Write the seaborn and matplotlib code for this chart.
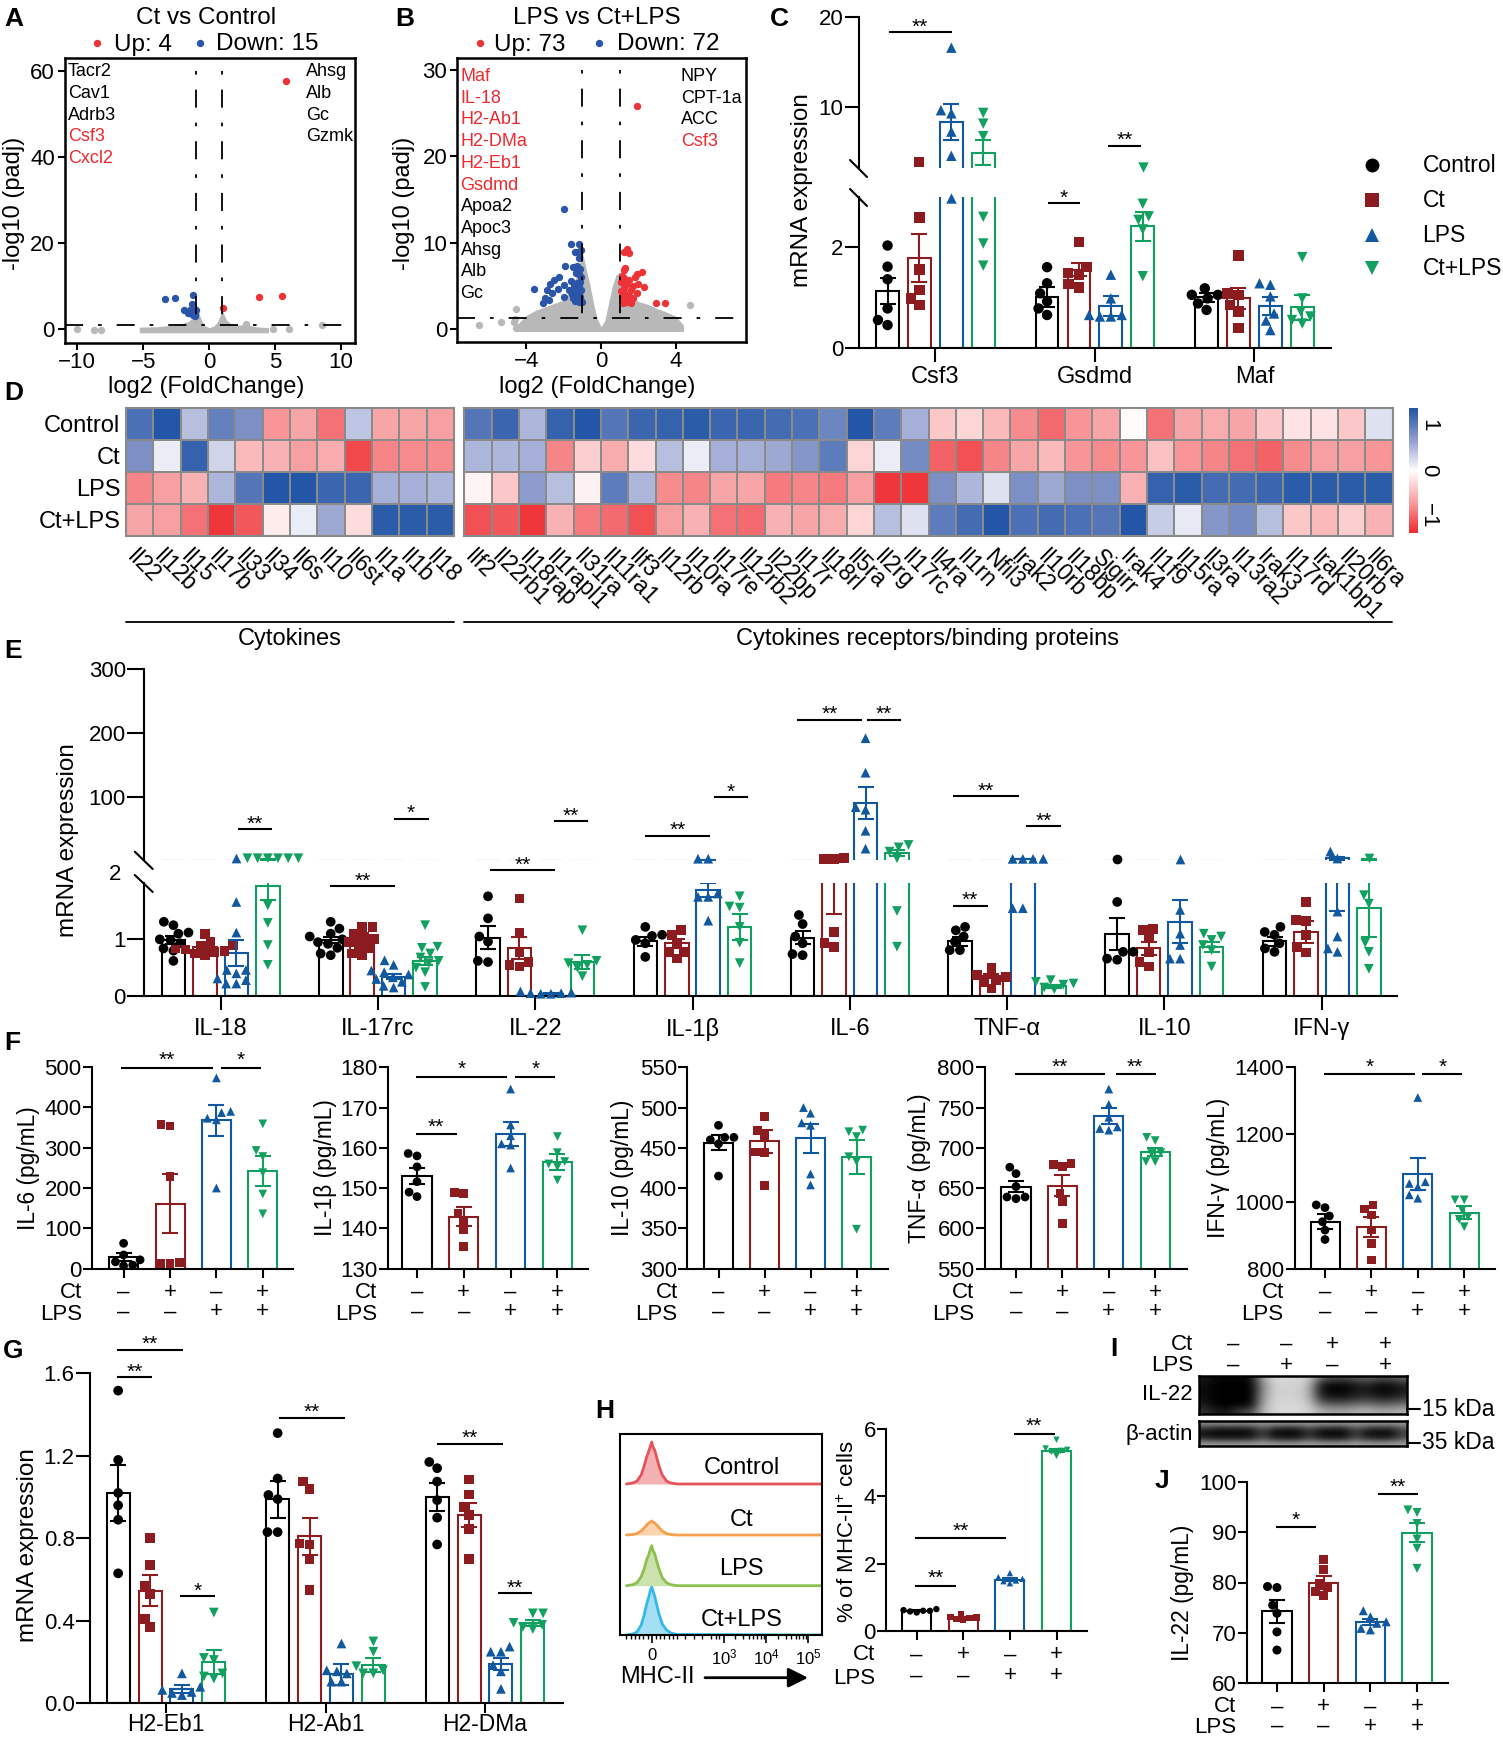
# -*- coding: utf-8 -*-
import warnings
import numpy as np
import pandas as pd
import matplotlib
matplotlib.use("Agg")
import matplotlib.pyplot as plt
from matplotlib.collections import PathCollection
from matplotlib.colors import LinearSegmentedColormap
import seaborn as sns

warnings.filterwarnings("ignore")
sns.set_style("ticks")
plt.rcParams['font.family'] = ['Liberation Sans', 'DejaVu Sans']
plt.rcParams['mathtext.default'] = 'regular'
plt.rcParams['axes.linewidth'] = 1.5
plt.rcParams['xtick.major.width'] = 1.5
plt.rcParams['ytick.major.width'] = 1.5
plt.rcParams['xtick.labelsize'] = 16
plt.rcParams['ytick.labelsize'] = 16
plt.rcParams['text.color'] = 'black'
plt.rcParams['xtick.color'] = 'black'
plt.rcParams['ytick.color'] = 'black'
plt.rcParams['axes.edgecolor'] = 'black'

W, H = 1503, 1737
GROUPS = ['Control', 'Ct', 'LPS', 'Ct+LPS']
COLORS = ['#000000', '#8c1c20', '#11589f', '#12a060']
MARKERS = ['o', 's', '^', 'v']
PALETTE = dict(zip(GROUPS, COLORS))
SIGNS = ['–\n–', '+\n–', '–\n+', '+\n+']

# A, B volcano
a_red = [(5.8, 57.6), (3.8, 7.6), (5.54, 7.8), (1.03, 5.0)]
a_blue = [(-3.38, 7.0), (-2.57, 7.2), (-1.2, 8.0), (-1.32, 5.9), (-1.9, 4.5), (-1.54, 4.1), (-1.35, 3.7),
          (-1.17, 3.9), (-1.0, 4.5), (-1.45, 4.6), (-1.25, 3.3), (-1.1, 3.2), (-1.05, 3.6), (-1.6, 3.9), (-1.2, 4.3)]
a_gray = [(-10, 0), (-8.7, -0.1), (-8.2, -0.1), (8.55, 1.0), (6.05, 0), (4.8, 0), (2.8, 1.2)]
a_env_x = [-5.3, -4, -3, -2.4, -2, -1.6, -1.3, -1.15, -1.0, -.85, -.7, -.5, -.3, 0, .3, .5, .7, .9, 1.0, 1.1, 1.3, 1.6, 2, 2.8, 3.5, 4.5]
a_env_top = [.5, .6, .9, 1.2, 1.4, 1.8, 2.6, 4.5, 5.8, 4.5, 3, 1.6, .8, .4, .7, 1.2, 2.2, 3.8, 4.5, 3.6, 2.2, 1.4, 1, 1.1, .6, .4]
b_red = [(1.9, 25.8), (1.4, 9.3), (1.25, 8.9), (1.5, 8.8), (1.3, 7.1), (1.2, 6.9), (2.2, 6.6), (1.9, 6.4), (1.1, 6.2),
         (1.8, 6.0), (1.25, 5.9), (1.5, 5.7), (2.0, 5.3), (1.05, 5.5), (1.4, 5.2), (1.7, 5.0), (2.3, 4.9), (1.2, 4.8),
         (1.6, 4.5), (1.05, 4.4), (1.9, 4.2), (1.3, 4.1), (1.5, 3.9), (1.1, 3.8), (1.7, 3.6), (1.2, 3.4), (1.4, 3.2),
         (1.6, 3.0), (1.15, 3.0), (2.95, 3.1), (3.4, 3.0)]
b_blue = [(-1.96, 13.96), (-1.6, 9.9), (-1.2, 9.9), (-1.05, 9.2), (-1.4, 9.0), (-1.25, 8.9), (-1.15, 8.2), (-1.3, 7.3),
          (-1.9, 7.3), (-1.5, 7.2), (-1.1, 7.0), (-1.35, 6.5), (-1.2, 6.4), (-2.25, 6.0), (-1.05, 6.1), (-2.5, 5.7),
          (-1.6, 5.6), (-1.3, 5.4), (-1.1, 5.5), (-2.75, 5.2), (-2.0, 5.1), (-1.45, 5.0), (-1.2, 5.0), (-3.6, 4.7),
          (-2.9, 4.6), (-2.3, 4.7), (-1.7, 4.6), (-1.35, 4.4), (-1.05, 4.5), (-2.6, 4.2), (-1.55, 4.1), (-1.2, 4.0),
          (-3.0, 3.6), (-2.0, 3.7), (-1.5, 3.6), (-1.1, 3.7), (-3.1, 3.1), (-2.8, 3.4), (-1.4, 3.3), (-1.2, 3.2), (-1.0, 3.2)]
b_gray = [(-6.5, 0.45), (-4.55, 2.3), (-5.35, 0.9), (-4.65, 0.8), (-4.55, 0.2), (4.75, 2.8), (-4.6, 1.2)]
b_env_x = [-4.6, -4, -3.5, -3, -2.5, -2, -1.5, -1.2, -1, -.8, -.6, -.4, -.2, 0, .2, .4, .6, .8, 1, 1.2, 1.5, 2, 2.5, 3, 3.5, 4, 4.4]
b_env_top = [.3, 1.6, 2.2, 2.6, 3, 3.4, 5, 7, 9, 7, 5.2, 3, 1.2, .3, 1, 3, 5, 6.3, 6.6, 5.8, 4.2, 3.2, 2.9, 2.4, 2, 1.5, .5]

# C
c_genes = ['Csf3', 'Gsdmd', 'Maf']
c_means = [[1.12, 1.78, 8.25, 4.85], [1.0, 1.55, .82, 2.41], [1.0, .98, .82, .8]]
c_sems = [[.26, .47, 2.0, 1.4], [.2, .13, .2, .29], [.09, .21, .18, .24]]
c_points = [
    [[2.03, 1.61, 1.36, .78, .45, .55], [3.84, 2.59, 1.55, 1.15, .85, .98], [16.6, 9.6, 9.25, 7.2, 4.5, 2.97], [9.3, 8.1, 6.7, 2.6, 2.07, 1.63]],
    [[1.6, 1.28, 1.08, .92, .78, .65], [2.1, 1.6, 1.48, 1.45, 1.27, 1.2], [1.45, .98, .62, .65, .65, .62], [3.2, 2.86, 2.54, 2.61, 2.35, 1.42]],
    [[1.18, 1.05, 1.05, .98, .88, .75], [1.83, 1.08, 1.05, .85, .72, .39], [1.28, 1.25, 1.02, .68, .54, .35], [1.8, .98, .62, .72, .55, .48]],
]

# D heatmap
d_rows = GROUPS
d_left_genes = ['Il22', 'Il12b', 'Il15', 'Il17b', 'Il33', 'Il34', 'Il6s', 'Il10', 'Il6st', 'Il1a', 'Il1b', 'Il18']
d_left = [[1.1, 1.35, .45, .95, .8, -.75, -.65, -.95, .4, -.65, -.65, -.7],
          [.8, .12, 1.25, .3, -.5, -.55, -.7, -.6, -1.2, -.85, -.8, -.8],
          [-.85, -.7, -.55, .5, 1.05, 1.35, 1.35, 1.2, 1.2, .55, .55, .5],
          [-.65, -.7, -.95, -1.3, -1.1, -.15, .12, .6, -.25, 1.3, 1.3, 1.3]]
d_right_genes = ['Ilf2', 'Il22rb1', 'Il18rap', 'Il1rapl1', 'Il31ra', 'Il11ra1', 'Ilf3', 'Il12rb', 'Il10ra', 'Il17re',
                 'Il12rb2', 'Il22bp', 'Il17r', 'Il18rl', 'Il5ra', 'Il2rg', 'Il17rc', 'Il4ra', 'Il1rn', 'Nfil3', 'Irak2',
                 'Il10rb', 'Il18bp', 'Sigirr', 'Irak4', 'Il1f9', 'Il15ra', 'Il3ra', 'Il13ra2', 'Irak3', 'Il17rd',
                 'Irak1bp1', 'Il20rb', 'Il6ra']
d_right = [[1.05, 1.2, .5, 1.25, 1.35, 1.05, 1.2, 1.25, 1.3, 1.2, 1.2, 1.15, 1.1, .9, 1.35, 1.0, .55, -.4, -.3, -.5, -.8,
            -1.0, -.75, -.65, -.03, -.95, -.65, -.6, -.65, -.4, -.2, -.2, -.4, .2],
           [.5, .5, .55, -.85, -.35, -.6, -.25, .45, .12, .55, .55, .6, .75, 1.0, -.3, .12, .85, -1.05, -1.15, -.85, -.65,
            -.5, -.75, -.8, -.75, -.45, -.75, -.85, -.95, -1.05, -.8, -.7, -.7, -.75],
           [-.08, -.4, .7, .45, -.1, 1.0, .5, -.8, -.85, -.65, -.65, -.9, -.85, -.9, -.7, -1.3, -1.3, .8, .5, .2, .8, .6,
            .8, .8, -.55, 1.25, 1.3, 1.15, 1.15, 1.2, 1.3, 1.3, 1.3, 1.3],
           [-1.15, -1.1, -1.3, -.55, -.9, -1.0, -1.15, -.7, -.55, -.95, -1.0, -.55, -.65, -.6, -.3, .45, .2, 1.0, 1.15,
            1.35, 1.1, 1.15, 1.1, 1.05, 1.35, .35, .15, .75, .85, .45, -.4, -.5, -.35, -.55]]

# E
e_genes = ['IL-18', 'IL-17rc', 'IL-22', 'IL-1β', 'IL-6', 'TNF-α', 'IL-10', 'IFN-γ']
e_means = [[.99, .87, .76, 1.94], [.99, .96, .34, .62], [1.03, .85, .04, .6], [.97, .93, 1.87, 1.22],
           [1.03, 2.5, 91, 12], [.97, .35, 2.4, .17], [1.09, .84, 1.31, .86], [.97, 1.13, 4.0, 1.55]]
e_sems = [[.07, .04, .23, .24], [.06, .05, .04, .07], [.2, .2, .01, .13], [.08, .08, .13, .23],
          [.11, 1.05, 25, 5], [.08, .04, .33, .03], [.28, .12, .38, .09], [.08, .19, 2.5, .5]]
e_points = [
    [[1.31, 1.25, 1.12, 1.1, 1.0, .99, .93, .84, .8, .62], [1.1, .95, .9, .88, .85, .82, .8, .78, .75, .72],
     [4.0, 1.66, 1.12, .46, .46, .4, .31, .28, .22, .22], [4, 4, 4, 4, 4, 4, 1.6, 1.29, .9, .55]],
    [[1.31, 1.19, 1.1, 1.05, 1.0, .95, .92, .85, .75, .72], [1.22, 1.22, 1.1, 1.05, 1.0, .95, .9, .85, .75, .72],
     [.63, .55, .45, .42, .38, .33, .3, .25, .18, .15], [1.25, .87, .85, .75, .68, .62, .58, .5, .42, .16]],
    [[1.76, 1.37, 1.05, .96, .6, .62], [1.72, 1.12, .78, .6, .55, .52], [.08, .06, .05, .05, .04, .04], [1.16, .62, .58, .55, .5, .35]],
    [[1.22, 1.08, 1.06, .99, .93, .69], [1.16, 1.08, .93, .78, .78, .66], [3.2, 3.2, 1.81, 1.75, 1.75, 1.33], [1.76, 1.58, 1.56, 1.22, .94, .58]],
    [[1.43, 1.27, 1.05, .93, .72, .74], [4.8, 3.2, 3.2, 1.13, .93, .87], [192, 138, 80, 84, 47, 19], [24.8, 21, 14.3, 4, 1.5, .87]],
    [[1.22, 1.16, 1.05, .96, .81, .81], [.5, .37, .34, .28, .25, .13], [3, 3, 3, 3, 1.55, 1.55], [.28, .25, .22, .2, .15, .12]],
    [[3, 1.66, .78, .78, .64, .66], [1.16, 1.18, 1.02, .78, .6, .52], [3, 1.52, 1.1, .9, .66, .66], [1.1, 1.05, .99, .9, .81, .52]],
    [[1.22, 1.13, 1.08, .93, .84, .78], [1.66, 1.34, 1.33, 1.08, .86, .77], [3.5, 14.5, 1.49, 1.05, .78, .84], [4, 1.78, 1.63, .94, .78, .48]],
]

# F
f_il6_means = [28, 161, 368, 243]
f_il6_sems = [10, 73, 38, 37]
f_il6_points = [[63, 34, 22, 17, 9, 7], [354, 357, 228, 13, 15, 13], [473, 390, 387, 373, 369, 200], [359, 293, 278, 238, 185, 136]]
f_il1b_means = [153.1, 142.9, 163.4, 156.4]
f_il1b_sems = [2, 2.3, 2.9, 2]
f_il1b_points = [[158.6, 158, 155.3, 151.6, 147.9, 149], [149, 148.7, 143.7, 142, 139.8, 135.6],
                 [174.6, 165.7, 163, 161, 160.7, 155], [162.8, 158.8, 156.6, 156, 155.3, 152]]
f_il10_means = [456.5, 458, 462, 439]
f_il10_sems = [9, 14, 18, 21]
f_il10_points = [[478, 463, 463, 460, 455, 415], [488.7, 472, 465, 445, 444, 403], [493, 500, 478, 481, 417.6, 404], [470, 472, 464, 439, 433, 349]]
f_tnf_means = [652, 653, 740, 694.5]
f_tnf_sems = [7, 13, 10, 5]
f_tnf_points = [[676, 668, 652, 637, 639, 639], [681, 679, 677, 643.5, 633, 606], [773, 754, 738, 722, 724, 726], [709, 713, 693, 683, 683, 694]]
f_ifn_means = [940, 925, 1082, 967]
f_ifn_sems = [22, 30, 49, 20]
f_ifn_points = [[982, 990, 957, 940, 915, 887], [990, 978, 960, 915, 875, 826], [1310, 1059, 1054, 1044, 1010, 1020], [1005, 1005, 975, 955, 947, 925]]

# G
g_genes = ['H2-Eb1', 'H2-Ab1', 'H2-DMa']
g_means = [[1.02, .546, .07, .2], [.99, .81, .14, .185], [1.0, .913, .19, .39]]
g_sems = [[.135, .076, .02, .06], [.09, .09, .05, .035], [.07, .06, .03, .015]]
g_points = [
    [[1.516, 1.18, 1.02, .96, .89, .63], [.8, .67, .57, .53, .41, .37], [.145, .08, .065, .055, .05, .04], [.44, .22, .21, .145, .13, .12]],
    [[1.31, 1.09, 1.01, .99, .83, .83], [1.075, 1.04, .775, .77, .7, .55], [.29, .16, .155, .145, .105, .105], [.3, .25, .18, .16, .145, .145]],
    [[1.17, 1.14, 1.075, .985, .9, .77], [1.085, 1.013, .953, .913, .845, .7], [.275, .25, .25, .185, .155, .07], [.436, .436, .39, .38, .37, .36]],
]

# H
h_means = [.6, .4, 1.52, 5.36]
h_sems = [.02, .03, .04, .05]
h_points = [[.65, .62, .6, .6, .58, .55], [.5, .42, .4, .38, .35, .32], [1.72, 1.6, 1.55, 1.5, 1.48, 1.42], [5.68, 5.42, 5.38, 5.35, 5.32, 5.2]]
flow_x = [-.6, -.45, -.35, -.25, -.18, -.12, -.07, -.03, 0, .03, .07, .12, .18, .25, .35, .45, .6, 4.03]
flow_control = [0, 1, 3, 9, 18, 27, 33, 38, 42, 37, 34, 26, 17, 9, 3, 1, 0, 0]
flow_ct = [0, .5, 1.5, 4, 7, 10, 12, 13, 14, 13, 12, 10, 7, 4, 1.5, .5, 0, 0]
flow_lps = [0, 1, 3, 9, 17, 26, 31, 37, 40, 35, 32, 24, 16, 8, 3, 1, 0, 0]
flow_ctlps = [0, 1, 3, 10, 20, 31, 38, 45, 48, 44, 39, 30, 20, 11, 5, 2, .5, 0]
flow_names = GROUPS
flow_lines = ['#e8525a', '#f5a04c', '#8cc04c', '#35b8ea']

# I blot grey levels
blot_il22 = [[.1, .02, .02, .02, .05, .65, .85, .85, .85, .8, .4, .3, .3, .35, .4, .33, .33, .4],
             [.05, 0, 0, 0, 0, .55, .82, .82, .82, .72, .1, .02, .02, .1, .14, .05, .05, .14],
             [.05, 0, 0, 0, 0, .55, .82, .82, .82, .7, .08, .01, .01, .08, .1, .03, .03, .1],
             [.05, 0, 0, 0, 0, .6, .82, .82, .82, .72, .18, .1, .1, .17, .2, .13, .13, .2],
             [.1, 0, 0, 0, .02, .65, .84, .84, .84, .78, .42, .36, .36, .42, .45, .38, .38, .45],
             [.2, .1, .08, .25, .3, .7, .85, .85, .85, .82, .68, .64, .64, .68, .7, .66, .66, .7]]
blot_actin = [[.55, .55, .55, .55, .55, .6, .58, .58, .58, .6, .58, .58, .58, .6, .58, .58, .58, .6],
              [.2, .12, .12, .12, .15, .35, .15, .12, .12, .3, .15, .12, .12, .35, .18, .15, .15, .35],
              [.05, .02, .02, .02, .04, .25, .03, .02, .02, .2, .03, .02, .02, .25, .05, .03, .03, .25],
              [.2, .12, .12, .12, .15, .35, .15, .12, .12, .3, .15, .12, .12, .35, .18, .15, .15, .35],
              [.6, .6, .6, .6, .6, .62, .6, .6, .6, .62, .6, .6, .6, .62, .6, .6, .6, .62]]

# J
j_means = [74.3, 80, 72.2, 89.9]
j_sems = [2.3, 1.2, .6, 1.9]
j_points = [[79, 79.2, 75.5, 73.9, 70.2, 66.6], [84.6, 82.6, 79.8, 79, 78.2, 77.4], [74.4, 73.2, 72.2, 71.9, 70.9, 70.6], [94.4, 93.9, 91.7, 88.6, 86.8, 82.8]]

fig = plt.figure(figsize=(W / 100, H / 100), dpi=100)


def box(x0, y0, x1, y1):
    return fig.add_axes([x0 / W, 1 - y1 / H, (x1 - x0) / W, (y1 - y0) / H])


def draw_bars(ax, genes, means, sems, points, size, gap, cap=5.5, lo=None, hi=None):
    # lo/hi pick what belongs on one segment of a broken axis
    bar_rows = []
    for i, g in enumerate(genes):
        for j in range(4):
            m = means[i][j]
            if lo is not None and m < lo:
                m = 0
            bar_rows.append((g, GROUPS[j], m))
    df_bar = pd.DataFrame(bar_rows, columns=['gene', 'group', 'mean'])
    sns.barplot(data=df_bar, x='gene', y='mean', hue='group', order=genes, hue_order=GROUPS, palette=PALETTE,
                fill=False, width=.8, gap=gap, linewidth=1.5, errorbar=None, saturation=1, legend=False, ax=ax)
    for i in range(len(genes)):
        for j in range(4):
            m, e = means[i][j], sems[i][j]
            if lo is not None and m + e < lo:
                continue
            if hi is not None and m - e >= hi:
                continue
            ax.errorbar(i + (j - 1.5) * .2, m, yerr=e, fmt='none', ecolor=COLORS[j],
                        elinewidth=1.5, capsize=cap, capthick=1.5, zorder=4)
    for j, grp in enumerate(GROUPS):
        rows = []
        for i, g in enumerate(genes):
            for v in points[i][j]:
                if (lo is None or v >= lo) and (hi is None or v < hi):
                    rows.append((g, grp, v))
        if not rows:
            continue
        df_pts = pd.DataFrame(rows, columns=['gene', 'group', 'val'])
        sns.swarmplot(data=df_pts, x='gene', y='val', hue='group', order=genes, hue_order=GROUPS, palette=PALETTE,
                      dodge=True, marker=MARKERS[j], size=size, linewidth=0, legend=False, zorder=3, ax=ax)
    # only the markers may sit over the axis ends
    for c in ax.collections:
        if isinstance(c, PathCollection):
            c.set_clip_on(False)
    ax.set_xlabel('')
    ax.set_ylabel('')


def sign_panel(x0, x1, y0, y1, cx, step, ylim, yticks, means, sems, points, size=6.3, tick=6.5, pad=3, spacing=.9):
    ax = box(x0, y0, x1, y1)
    draw_bars(ax, ['g'], [means], [sems], [points], size, .375, cap=5.5)
    unit = step / .2
    ax.set_xlim((x0 - cx) / unit, (x1 - cx) / unit)
    ax.set_ylim(*ylim)
    ax.set_yticks(yticks)
    ax.set_xticks([-.3, -.1, .1, .3], SIGNS, linespacing=spacing)
    ax.tick_params(axis='y', length=tick, pad=1)
    ax.tick_params(axis='x', length=tick, pad=pad)
    sns.despine(ax=ax)
    return ax


# panel C, broken axis
cstep = 159.5
c_up = box(858.6, 17.3, 1331, 168.3)
draw_bars(c_up, c_genes, c_means, c_sems, c_points, 7.5, .286, lo=3)
c_up.set_xlim((858.6 - 935.4) / cstep, (1331 - 935.4) / cstep)
c_up.set_ylim(3.1, 20)
c_up.set_yticks([10, 20])
c_up.set_xticks([])
c_up.tick_params(axis='y', length=10, pad=1)
sns.despine(ax=c_up, bottom=True)
c_lo = box(858.6, 196.7, 1331, 347.7)
draw_bars(c_lo, c_genes, c_means, c_sems, c_points, 7.5, .286, hi=3)
c_lo.set_xlim((858.6 - 935.4) / cstep, (1331 - 935.4) / cstep)
c_lo.set_ylim(0, 3)
c_lo.set_yticks([0, 2])
c_lo.set_xticks([0, 1, 2], c_genes, fontsize=17)
c_lo.tick_params(axis='y', length=10, pad=1)
c_lo.tick_params(axis='x', length=10, pad=3)
sns.despine(ax=c_lo)

# panel E, broken axis
estep = 157.3
e_up = box(144, 669.3, 1397, 859.5)
draw_bars(e_up, e_genes, e_means, e_sems, e_points, 7, .25, lo=2)
e_up.set_xlim((144 - 220.6) / estep, (1397 - 220.6) / estep)
e_up.set_ylim(2, 300)
e_up.set_yticks([100, 200, 300])
e_up.set_xticks([])
e_up.tick_params(axis='y', length=12, pad=1)
sns.despine(ax=e_up, bottom=True)
e_lo = box(144, 882.7, 1397, 996)
draw_bars(e_lo, e_genes, e_means, e_sems, e_points, 7, .25, hi=2)
e_lo.set_xlim((144 - 220.6) / estep, (1397 - 220.6) / estep)
e_lo.set_ylim(0, 2)
e_lo.set_yticks([0, 1])
e_lo.set_xticks(range(8), e_genes, fontsize=17)
e_lo.tick_params(axis='y', length=12, pad=1)
e_lo.tick_params(axis='x', length=10, pad=6)
sns.despine(ax=e_lo)

# panel F
sign_panel(92, 293, 1067, 1268.7, 193.2, 46.4, (0, 500), [0, 100, 200, 300, 400, 500], f_il6_means, f_il6_sems, f_il6_points)
sign_panel(387.8, 587.5, 1067.3, 1268.7, 487.2, 46.8, (130, 180), [130, 140, 150, 160, 170, 180], f_il1b_means, f_il1b_sems, f_il1b_points)
sign_panel(687.4, 888, 1067.3, 1268.7, 787.5, 46, (300, 550), [300, 350, 400, 450, 500, 550], f_il10_means, f_il10_sems, f_il10_points)
sign_panel(985, 1186.5, 1067.3, 1268.7, 1085.6, 46.4, (550, 800), [550, 600, 650, 700, 750, 800], f_tnf_means, f_tnf_sems, f_tnf_points)
sign_panel(1294.6, 1494.6, 1067.3, 1268.7, 1394.6, 46.4, (800, 1400), [800, 1000, 1200, 1400], f_ifn_means, f_ifn_sems, f_ifn_points)

# panel G
g_ax = box(90, 1373.3, 562.6, 1703.3)
draw_bars(g_ax, g_genes, g_means, g_sems, g_points, 7, .28)
g_ax.set_xlim((90 - 166) / 159.5, (562.6 - 166) / 159.5)
g_ax.set_ylim(0, 1.6)
g_ax.set_yticks([0, .4, .8, 1.2, 1.6], ['0.0', '0.4', '0.8', '1.2', '1.6'])
g_ax.set_xticks([0, 1, 2], g_genes, fontsize=16.5)
g_ax.tick_params(axis='y', length=10, pad=1)
g_ax.tick_params(axis='x', length=7, pad=0)
sns.despine(ax=g_ax)

# panel H bars and J
sign_panel(886.4, 1086.8, 1429, 1631, 986.6, 46.6, (0, 6), [0, 2, 4, 6], h_means, h_sems, h_points, size=4.6, pad=3, spacing=1.0)
sign_panel(1247, 1447.9, 1481.7, 1683.3, 1347, 46.7, (60, 100), [60, 70, 80, 90, 100], j_means, j_sems, j_points, size=6.5, pad=3)

# panel H flow histograms
fl = box(620.3, 1434, 821.8, 1635)
flow_bases = [151, 100, 49.3, 0]
for base, curve, col in zip(flow_bases, [flow_control, flow_ct, flow_lps, flow_ctlps], flow_lines):
    top = [base + v for v in curve]
    fl.fill_between(flow_x, base, top, color=col, alpha=.45, lw=0)
    sns.lineplot(x=flow_x, y=top, color=col, lw=2, estimator=None, sort=False, ax=fl)
fl.set_xlim(-.745, 4.03)
fl.set_ylim(0, 201)
fl.set_yticks([])
fl.set_xticks([0, 1.71, 2.71, 3.71], ['0', '$10^3$', '$10^4$', '$10^5$'], fontsize=12)
fl_minor = [-.6, -.5, -.4, -.3, -.2, -.1, .1, .2, .3, .4, .5, .6, .8, 1.0, 1.2, 1.4, 1.52, 1.6, 1.98, 2.16, 2.3, 2.41, 2.5, 2.58, 2.65,
            2.99, 3.17, 3.3, 3.41, 3.5, 3.58, 3.65]
fl.set_xticks(fl_minor, minor=True)
fl.tick_params(axis='x', which='major', length=6, pad=3, width=1.2)
fl.tick_params(axis='x', which='minor', length=3, width=1)

# panel I blots
for (y0, y1, blot) in [(1376, 1414.3, blot_il22), (1420.7, 1445.7, blot_actin)]:
    bl = box(1198.6, y0, 1407, y1)
    bl.imshow(np.array(blot), cmap='gray', vmin=0, vmax=1, aspect='auto', interpolation='bicubic')
    bl.set_xticks([])
    bl.set_yticks([])
    for s in bl.spines.values():
        s.set_linewidth(1.8)

# panels A, B volcano
volcanos = [(box(64.5, 58.3, 355, 342.7), a_red, a_blue, a_gray, a_env_x, a_env_top, (-10.97, 11.05), (-3.1, 62.9),
             [-10, -5, 0, 5, 10], [0, 20, 40, 60], 60, 1.0, -.8),
            (box(457, 58.3, 746, 341.7), b_red, b_blue, b_gray, b_env_x, b_env_top, (-7.69, 7.74), (-1.43, 31.35),
             [-4, 0, 4], [0, 10, 20, 30], 30, 1.3, -.25)]
for ax, red, blue, gray, ex, et, xl, yl, xt, yt, ytop, hl, elow in volcanos:
    ax.fill_between(ex, elow, et, color='#b8b8b8', lw=0)
    for pts, col in [(gray, '#b8b8b8'), (blue, '#2a55a8'), (red, '#ee3338')]:
        sns.scatterplot(x=[p[0] for p in pts], y=[p[1] for p in pts], color=col, s=28, linewidth=0, zorder=3, ax=ax)
    for v in (-1, 1):
        ax.plot([v, v], [ytop, hl], color='k', lw=1.3, ls=(18.3, (10, 8.3, 2, 8.3)), zorder=4)
    ax.axhline(hl, color='k', lw=1.3, ls=(0, (10, 8.3, 2, 8.3)), zorder=4)
    ax.set_xlim(*xl)
    ax.set_ylim(*yl)
    ax.set_xticks(xt)
    ax.set_yticks(yt)
    ax.tick_params(length=5, pad=2)
    for s in ax.spines.values():
        s.set_linewidth(1.8)

# panel D heatmaps
heat_cmap = LinearSegmentedColormap.from_list('heat', ['#ee2a2e', '#f8a0a2', '#ffffff', '#8f9ccd', '#1f54a5'])
hm_l = box(126, 408.3, 454, 535.7)
sns.heatmap(pd.DataFrame(d_left, index=d_rows, columns=d_left_genes), cmap=heat_cmap, vmin=-1.38, vmax=1.38, cbar=False,
            linewidths=1.3, linecolor='#8a8a8a', ax=hm_l)
hm_r = box(464.4, 408.3, 1392.7, 535.7)
cax = box(1409, 408, 1418, 533)
sns.heatmap(pd.DataFrame(d_right, index=d_rows, columns=d_right_genes), cmap=heat_cmap, vmin=-1.38, vmax=1.38, cbar_ax=cax,
            cbar_kws={'ticks': [-1, 0, 1]}, linewidths=1.3, linecolor='#8a8a8a', ax=hm_r)
cax.set_yticks([-1, 0, 1], ['−1', '0', '1'], rotation=-90, va='center', fontsize=16)
cax.tick_params(length=0, pad=0)
hm_r.collections[0].colorbar.outline.set_visible(False)
for hm, names in [(hm_l, d_left_genes), (hm_r, d_right_genes)]:
    hm.set_xticks(np.arange(len(names)) + .45, names, rotation=-45, ha='left', va='top', rotation_mode='anchor', fontsize=16.5)
    hm.tick_params(axis='x', length=0, pad=7)
    hm.set_xlabel('')
    for s in ('left', 'right', 'top', 'bottom'):
        hm.spines[s].set_visible(True)
        hm.spines[s].set_color('#8a8a8a')
hm_l.set_yticks(np.arange(4) + .57, d_rows, rotation=0, fontsize=17)
hm_l.tick_params(axis='y', length=0, pad=4)
hm_r.set_yticks([])
hm_r.set_ylabel('')

# everything placed by figure pixels
ov = fig.add_axes([0, 0, 1, 1], zorder=10)
ov.set_xlim(0, W)
ov.set_ylim(H, 0)
ov.axis('off')


def txt(x, y, s, size=16, ha='center', va='center', **kw):
    if kw.get('rotation') == 90:
        x = x + 2
    else:
        y = y + 1.5
    ov.text(x, y, s, fontsize=size, ha=ha, va=va, **kw)


def sig(x0, x1, y, stars, sx=None, sy=None):
    ov.plot([x0, x1], [y, y], color='k', lw=1.5, solid_capstyle='butt')
    sx = (x0 + x1) / 2 if sx is None else sx
    sy = y - 12 if sy is None else sy
    ov.text(sx, sy + 12, stars, fontsize=15, ha='center', va='baseline')


letters = [('A', 4, 17), ('B', 395, 17), ('C', 770, 17), ('D', 4, 391), ('E', 4, 649), ('F', 4, 1041), ('G', 3, 1349),
           ('H', 595, 1409), ('I', 1110, 1348), ('J', 1155, 1479)]
for s, x, y in letters:
    txt(x, y, s, size=19, ha='left', fontweight='bold')

# A/B headers
txt(206, 16, 'Ct vs Control', size=17.5)
ov.scatter([97], [43], s=28, color='#ee3338', linewidth=0)
txt(114, 43, 'Up: 4', size=17.5, ha='left')
ov.scatter([200], [43], s=28, color='#2a55a8', linewidth=0)
txt(216, 43, 'Down: 15', size=17.5, ha='left')
txt(597, 16, 'LPS vs Ct+LPS', size=17.5)
ov.scatter([480], [43], s=28, color='#ee3338', linewidth=0)
txt(494, 43, 'Up: 73', size=17.5, ha='left')
ov.scatter([599], [43], s=28, color='#2a55a8', linewidth=0)
txt(617, 43, 'Down: 72', size=17.5, ha='left')
txt(206, 385, 'log2 (FoldChange)', size=17)
txt(597, 385, 'log2 (FoldChange)', size=17)
txt(12, 203, '-log10 (padj)', size=17, rotation=90)
txt(402, 203, '-log10 (padj)', size=17, rotation=90)
RED = '#ee2a2e'
a_left = [('Tacr2', 'k'), ('Cav1', 'k'), ('Adrb3', 'k'), ('Csf3', RED), ('Cxcl2', RED)]
a_right = [('Ahsg', 'k'), ('Alb', 'k'), ('Gc', 'k'), ('Gzmk', 'k')]
b_left = [('Maf', RED), ('IL-18', RED), ('H2-Ab1', RED), ('H2-DMa', RED), ('H2-Eb1', RED), ('Gsdmd', RED),
          ('Apoa2', 'k'), ('Apoc3', 'k'), ('Ahsg', 'k'), ('Alb', 'k'), ('Gc', 'k')]
b_right = [('NPY', 'k'), ('CPT-1a', 'k'), ('ACC', 'k'), ('Csf3', RED)]
for names, x, y0, dy in [(a_left, 68, 70.5, 21.6), (a_right, 306, 70.5, 21.6), (b_left, 460.5, 75, 21.7), (b_right, 681, 75, 21.7)]:
    for i, (s, col) in enumerate(names):
        txt(x, y0 + i * dy, s, size=13, ha='left', color=col)

# C extras
txt(799.7, 190, 'mRNA expression', size=17.5, rotation=90)
for y in ((160, 177), (189, 206)):
    ov.plot([850, 867], y, color='k', lw=1.5)
sig(889, 951.5, 32.3, '**', sy=20.7)
sig(1047.7, 1080, 203.3, '*', sy=191.7)
sig(1108, 1140.6, 145.7, '**', sy=134)
for name, col, mk, y in zip(GROUPS, COLORS, MARKERS, [165, 200, 235, 268]):
    ov.plot([1372], [y], marker=mk, color=col, ms=10, lw=0, mew=0)
    txt(1422.5, y - 1, name, size=16.5, ha='left')

# D extras
ov.plot([126, 454], [621.7, 621.7], color='k', lw=1.3)
ov.plot([464.4, 1391.7], [621.7, 621.7], color='k', lw=1.3)
txt(290, 637.7, 'Cytokines', size=17)
txt(928, 637.7, 'Cytokines receptors/binding proteins', size=17)

# E extras
txt(66, 840, 'mRNA expression', size=17.5, rotation=90)
txt(121, 873, '2', size=16, ha='right')
for y in ((851.7, 869), (875, 892)):
    ov.plot([134.8, 152.7], y, color='k', lw=1.5)
sig(237.5, 272, 829.3, '**', sy=817.7)
sig(329.6, 395, 886, '**', sy=875)
sig(393.6, 428.5, 819, '*', sy=807)
sig(489.6, 555, 870, '**', sy=859)
sig(553.6, 588, 821.3, '**', sy=810)
sig(644.7, 710, 835.7, '**', sy=824)
sig(713.5, 747.5, 797, '*', sy=785.7)
sig(797, 862, 719.7, '**', sy=708)
sig(866.6, 901, 719.7, '**', sy=708)
sig(953, 1019, 796, '**', sy=785)
sig(1026, 1061.4, 826, '**', sy=814.7)
sig(953, 987.5, 906, '**', sy=894)

# F extras
f_labels = [('IL-6 (pg/mL)', 26.7, 82.4), ('IL-1β (pg/mL)', 323.8, 377), ('IL-10 (pg/mL)', 620, 677.7),
            ('TNF-α (pg/mL)', 917.8, 974), ('IFN-γ (pg/mL)', 1217, 1283.7)]
for s, xl, xr in f_labels:
    txt(xl, 1168, s, size=16.4, rotation=90)
    txt(xr, 1290.7, 'Ct', ha='right')
    txt(xr, 1313, 'LPS', ha='right')
sig(121, 213, 1067.7, '**', sx=167, sy=1054)
sig(221, 261, 1067.7, '*', sx=241, sy=1054)
sig(416, 506.5, 1077, '*', sx=461.5, sy=1063)
sig(515, 555, 1077, '*', sx=535.6, sy=1063)
sig(416, 456.6, 1134.3, '**', sx=436, sy=1120.7)
sig(1014.5, 1105, 1073.7, '**', sx=1059.5, sy=1060.7)
sig(1115.5, 1155.7, 1073.7, '**', sx=1135, sy=1060.7)
sig(1324, 1415, 1073.7, '*', sx=1370, sy=1060.7)
sig(1422, 1462, 1073.7, '*', sx=1442.5, sy=1060.7)

# G extras
txt(26, 1545, 'mRNA expression', size=17.5, rotation=90)
sig(117, 183, 1350, '**', sx=150, sy=1338)
sig(117, 152, 1377, '**', sx=134.7, sy=1365.7)
sig(278.6, 344.8, 1418, '**', sx=312, sy=1406)
sig(437, 503, 1444, '**', sx=470, sy=1432)
sig(497.5, 532, 1593, '**', sx=514.7, sy=1581.7)
sig(180, 215, 1596, '*', sx=197.5, sy=1585)

# H extras
for s, y in zip(flow_names, [1466, 1518, 1567.7, 1618]):
    txt(741.4, y, s, size=17)
txt(620, 1675.7, 'MHC-II', size=17, ha='left')
ov.annotate('', xy=(808, 1677.7), xytext=(705, 1677.7),
            arrowprops=dict(arrowstyle='-|>,head_length=1.2,head_width=.6', color='k', lw=2, shrinkA=0, shrinkB=0))
txt(846, 1531.7, '% of MHC-II$^{+}$ cells', size=16, rotation=90)
txt(875.4, 1652.7, 'Ct', ha='right')
txt(875.4, 1676.7, 'LPS', ha='right')
sig(915, 955.8, 1585.7, '**', sx=935.4, sy=1571.7)
sig(915, 1006.4, 1538, '**', sx=961, sy=1525)
sig(1014, 1054.8, 1433.7, '**', sx=1034, sy=1420)

# I extras
lane_x = [1233.6, 1286, 1332.6, 1385]
txt(1192.8, 1343, 'Ct', ha='right')
txt(1192.8, 1364, 'LPS', ha='right')
for x, a, b in zip(lane_x, ['–', '–', '+', '+'], ['–', '+', '–', '+']):
    txt(x, 1343, a)
    txt(x, 1364, b)
txt(1192.8, 1393, 'IL-22', ha='right')
txt(1192.8, 1432.7, 'β-actin', ha='right')
ov.plot([1407, 1420], [1409.3, 1409.3], color='k', lw=1.5)
ov.plot([1407, 1420], [1443, 1443], color='k', lw=1.5)
txt(1421.7, 1408, '15 kDa', size=16.5, ha='left')
txt(1421.7, 1441, '35 kDa', size=16.5, ha='left')

# J extras
txt(1181, 1593, 'IL-22 (pg/mL)', size=16.4, rotation=90)
txt(1236.5, 1705, 'Ct', ha='right')
txt(1236.5, 1726, 'LPS', ha='right')
sig(1276, 1316, 1527.3, '*', sy=1514)
sig(1378, 1418, 1494, '**', sy=1480.7)

fig.savefig('out.png', dpi=100)
